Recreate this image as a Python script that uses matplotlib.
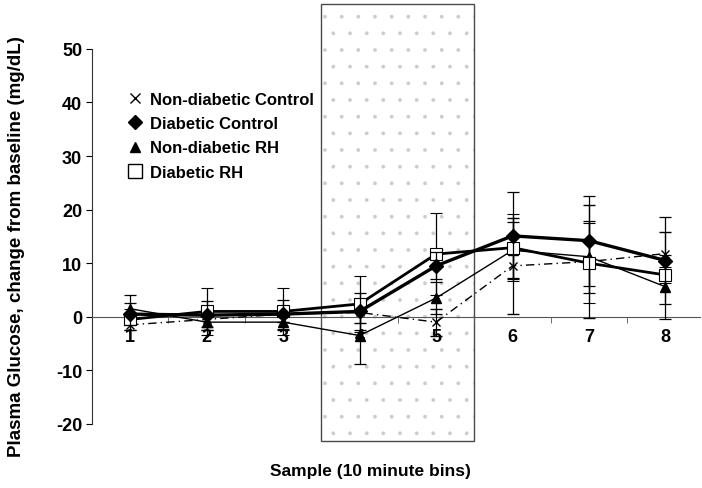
import numpy as np
import matplotlib
matplotlib.use("Agg")
import matplotlib.pyplot as plt
from matplotlib.patches import Rectangle
from matplotlib.lines import Line2D

plt.rcParams["axes.unicode_minus"] = False
plt.rcParams["font.family"] = ["Liberation Sans", "DejaVu Sans"]
plt.rcParams["hatch.linewidth"] = 0.3

samples = [1, 2, 3, 4, 5, 6, 7, 8]

nd_control = [-1.5, -0.5, 0.5, 0.8, -1.0, 9.5, 10.3, 11.8]
nd_control_err = [1.0, 1.5, 1.5, 2.0, 2.5, 8.9, 10.5, 4.0]

d_control = [0.5, 0.3, 0.5, 1.0, 9.5, 15.1, 14.2, 10.5]
d_control_err = [2.0, 2.7, 2.7, 3.5, 2.5, 8.1, 8.4, 8.2]

nd_rh = [1.5, -1.0, -1.0, -3.5, 3.5, 12.4, 11.2, 5.6]
nd_rh_err = [2.6, 1.5, 1.5, 5.3, 3.0, 5.2, 6.7, 6.0]

d_rh = [-0.5, 1.0, 1.0, 2.4, 11.7, 12.9, 10.0, 7.8]
d_rh_err = [2.0, 4.4, 4.4, 5.3, 7.6, 6.2, 7.5, 1.5]

labels = ["Non-diabetic Control", "Diabetic Control", "Non-diabetic RH", "Diabetic RH"]

fig = plt.figure(figsize=(7.02, 4.89), dpi=100)
ax = fig.add_axes([0.131, 0.131, 0.866, 0.767])
ax.set_xlim(0.5, 8.45)
ax.set_ylim(-20, 50)

# stippled sampling window
ax.add_patch(Rectangle((3.5, -23.2), 2.0, 81.6, facecolor="white", edgecolor="#cccccc",
                       hatch=".", linewidth=0, clip_on=False, zorder=0))
ax.add_patch(Rectangle((3.5, -23.2), 2.0, 81.6, facecolor="none", edgecolor="#4a4a4a",
                       linewidth=1.0, clip_on=False, zorder=1))

ebkw = dict(ecolor="black", elinewidth=0.9, capsize=4.5, capthick=0.9, color="black")
ax.errorbar(samples, nd_control, yerr=nd_control_err, marker="x", ms=6, mew=1.0,
            linestyle=(0, (6, 3, 1, 3)), lw=1.0, zorder=3, **ebkw)
ax.errorbar(samples, d_control, yerr=d_control_err, marker="D", ms=7, mfc="black",
            linestyle="-", lw=2.4, zorder=5, **ebkw)
ax.errorbar(samples, nd_rh, yerr=nd_rh_err, marker="^", ms=7, mfc="black",
            linestyle="-", lw=1.0, zorder=4, **ebkw)
ax.errorbar(samples, d_rh, yerr=d_rh_err, marker="s", ms=9, mfc="white", mew=0.8,
            linestyle="-", lw=2.0, zorder=4, **ebkw)

# axes styling
for s in ["top", "right"]:
    ax.spines[s].set_visible(False)
ax.spines["bottom"].set_position(("data", 0))
ax.spines["bottom"].set_color("#555555")
ax.spines["left"].set_color("#333333")
ax.set_xticks(samples)
ax.set_xticklabels([str(s) for s in samples], fontsize=13, fontweight="bold")
ax.set_xticks(np.arange(1.5, 8.5, 1.0), minor=True)
ax.tick_params(axis="x", which="major", length=0, pad=8)
ax.tick_params(axis="x", which="minor", length=4, direction="out", color="#555555")
ax.set_yticks(np.arange(-20, 51, 10))
ax.tick_params(axis="y", length=4, direction="out", pad=3)
for t in ax.get_yticklabels():
    t.set_fontweight("bold")
    t.set_fontsize(13)

ax.set_ylabel("Plasma Glucose, change from baseline (mg/dL)", fontsize=13.5,
              fontweight="bold")
ax.yaxis.set_label_coords(-0.11, 0.475)
fig.text(0.527, 0.035, "Sample (10 minute bins)", ha="center", va="center",
         fontsize=12.5, fontweight="bold")

handles = [
    Line2D([], [], color="black", marker="x", ms=7, mew=1.0, linestyle="none"),
    Line2D([], [], color="black", marker="D", ms=7, linestyle="none"),
    Line2D([], [], color="black", marker="^", ms=7, linestyle="none"),
    Line2D([], [], color="black", marker="s", ms=10, mfc="white", mew=1.0, linestyle="none"),
]
ax.legend(handles, labels, loc="upper left", bbox_to_anchor=(0.035, 0.925), frameon=False,
          handlelength=0.8, handletextpad=0.5, labelspacing=0.55,
          prop={"weight": "bold", "size": 12})

fig.savefig("out.png", dpi=100)
